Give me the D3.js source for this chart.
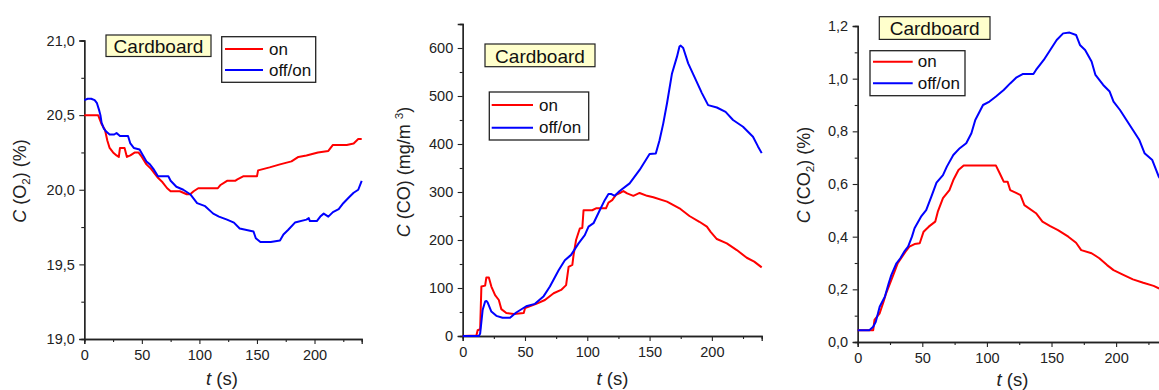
<!DOCTYPE html>
<html lang="en">
<head>
<meta charset="UTF-8">
<title>Cardboard O2 / CO / CO2</title>
<script src="https://d3js.org/d3.v7.min.js"></script>
<style>
    html, body { margin: 0; padding: 0; background: #fff; }
    svg { display: block; font-family: "Liberation Sans", Arial, sans-serif; }
</style>
</head>
<body>
<svg id="chart" width="1159" height="390"></svg>
<script>
// time axis ticks (s)
const timeTicks = [0, 50, 100, 150, 200];
const timeMinor = [25, 75, 125, 175, 225];

// O2 (%) : [t, value]
const o2On = [[0,20.50],[12,20.50],[15,20.44],[18,20.40],[20,20.33],[22,20.28],[25,20.25],[28,20.23],[30,20.22],[31,20.28],[35,20.28],[37,20.22],[40,20.23],[44,20.25],[47,20.25],[50,20.22],[54,20.17],[58,20.14],[64,20.08],[68,20.05],[72,20.01],[75,19.99],[83,19.99],[89,19.97],[92,19.97],[95,19.99],[99,20.01],[116,20.01],[118,20.03],[124,20.06],[131,20.06],[133,20.07],[138,20.09],[150,20.09],[151,20.13],[161,20.15],[170,20.17],[180,20.19],[186,20.22],[193,20.23],[203,20.25],[212,20.26],[216,20.30],[228,20.30],[234,20.31],[238,20.34],[241,20.34]];
const o2OffOn = [[0,20.60],[3,20.61],[6,20.61],[9,20.60],[11,20.58],[13,20.53],[14,20.50],[15,20.45],[17,20.41],[19,20.39],[22,20.37],[26,20.37],[28,20.38],[31,20.36],[38,20.36],[40,20.31],[43,20.28],[48,20.27],[51,20.23],[54,20.19],[57,20.17],[60,20.14],[64,20.09],[73,20.09],[75,20.06],[80,20.02],[86,20.00],[92,19.97],[98,19.91],[105,19.89],[112,19.84],[117,19.82],[124,19.80],[130,19.78],[135,19.74],[147,19.72],[149,19.675],[153,19.65],[162,19.65],[170,19.66],[173,19.70],[177,19.73],[183,19.78],[193,19.80],[195,19.81],[196,19.79],[202,19.79],[205,19.82],[208,19.84],[212,19.82],[216,19.85],[221,19.87],[225,19.91],[230,19.95],[234,19.98],[238,20.00],[241,20.06]];
const o2Ticks = [19, 19.5, 20, 20.5, 21];
const o2Minor = [19.25, 19.75, 20.25, 20.75];

// CO (mg/m3)
const coOn = [[0,0],[11,1],[12,12],[14,14],[15,103],[18,105],[19,122],[21,122],[23,103],[26,85],[29,75],[31,56],[35,48],[41,46],[49,48],[50,58],[59,67],[66,75],[73,89],[79,96],[83,106],[85,144],[88,148],[89,169],[91,200],[94,224],[96,225],[97,262],[104,262],[107,266],[115,266],[117,278],[120,283],[123,294],[127,299],[129,302],[132,297],[137,292],[142,298],[148,292],[153,289],[164,280],[174,266],[182,250],[190,238],[196,228],[199,217],[204,202],[212,193],[220,179],[228,163],[234,155],[240,143]];
const coOffOn = [[0,0],[13,0],[14,5],[16,54],[18,72],[19,73],[20,70],[23,51],[27,42],[32,38],[38,38],[43,49],[51,62],[58,67],[65,83],[70,103],[77,137],[82,158],[87,169],[93,193],[98,210],[101,228],[105,235],[110,262],[114,283],[117,296],[119,296],[122,292],[126,302],[134,318],[142,346],[150,379],[155,380],[158,408],[161,443],[164,485],[168,547],[172,582],[174,603],[175,605],[177,600],[181,568],[186,540],[192,506],[197,481],[204,476],[211,467],[217,450],[225,436],[233,415],[237,395],[240,381]];
const coTicks = [0, 100, 200, 300, 400, 500, 600];
const coMinor = [50, 150, 250, 350, 450, 550, 650];

// CO2 (%)
const co2On = [[0,0.045],[12,0.045],[13,0.084],[17,0.109],[20,0.153],[22,0.185],[25,0.223],[28,0.261],[31,0.299],[37,0.343],[40,0.362],[44,0.372],[48,0.375],[51,0.419],[55,0.438],[60,0.457],[62,0.495],[66,0.546],[71,0.577],[74,0.615],[78,0.653],[82,0.670],[107,0.670],[110,0.640],[113,0.609],[116,0.609],[118,0.577],[123,0.565],[126,0.558],[129,0.520],[138,0.489],[143,0.457],[149,0.440],[155,0.425],[163,0.400],[169,0.377],[173,0.349],[181,0.337],[187,0.318],[193,0.292],[198,0.273],[206,0.254],[213,0.238],[221,0.225],[229,0.213],[233,0.204],[240,0.195]];
const co2OffOn = [[0,0.045],[9,0.045],[12,0.058],[14,0.077],[17,0.134],[21,0.172],[24,0.223],[26,0.254],[30,0.299],[33,0.318],[36,0.343],[39,0.362],[42,0.400],[44,0.432],[49,0.476],[53,0.501],[57,0.552],[61,0.605],[66,0.634],[69,0.666],[74,0.710],[79,0.736],[84,0.755],[88,0.793],[91,0.843],[95,0.881],[97,0.900],[102,0.913],[107,0.932],[113,0.957],[118,0.982],[123,1.005],[128,1.018],[136,1.018],[138,1.033],[144,1.071],[149,1.109],[154,1.147],[159,1.172],[164,1.175],[169,1.166],[172,1.128],[176,1.109],[181,1.065],[184,1.014],[190,0.976],[195,0.951],[198,0.913],[203,0.881],[208,0.843],[213,0.805],[218,0.767],[222,0.717],[228,0.691],[233,0.628],[240,0.580]];
const co2Ticks = [0, 0.2, 0.4, 0.6, 0.8, 1.0, 1.2];
const co2Minor = [0.1, 0.3, 0.5, 0.7, 0.9, 1.1];

const seriesNames = ["on", "off/on"];
const seriesColors = ["#ff0000", "#0000ff"];

const comma = v => d3.format(".1f")(v).replace(".", ",");

const panels = [
    {
        x: [84.3, 361.7], xMax: 241, y: [339, 40.5], yDom: [19, 21],
        yTicks: o2Ticks, yMinor: o2Minor, fmt: comma, xLabelBase: 360,
        series: [o2On, o2OffOn],
        yLabel: { x: 26, y: 181, parts: [["C", "i"], [" (O"], ["2", "sub"], [") (%)"]] },
        tLabel: { x: 222, y: 385 },
        card: { x: 106, y: 35, w: 105, h: 21.5, base: 53 },
        legend: { x: 221.7, y: 36.7, w: 94, h: 45.6, l0: 225, l1: 263, ty: [49, 70], tx: 269 }
    },
    {
        x: [462.7, 761.7], xMax: 240, y: [336, 24], yDom: [0, 650],
        yTicks: coTicks, yMinor: coMinor, fmt: d3.format("d"), xLabelBase: 358,
        series: [coOn, coOffOn],
        yLabel: { x: 410, y: 172, parts: [["C", "i"], [" (CO) (mg/m "], ["3", "sup"], [")"]] },
        tLabel: { x: 612.5, y: 385 },
        card: { x: 485, y: 44, w: 110, h: 22.7, base: 63 },
        legend: { x: 489.3, y: 92, w: 99.4, h: 48, l0: 491.7, l1: 533, ty: [105, 127.7], tx: 539 }
    },
    {
        x: [857.7, 1167.8], xMax: 240, y: [342, 26], yDom: [0, 1.2],
        yTicks: co2Ticks, yMinor: co2Minor, fmt: comma, xLabelBase: 363,
        series: [co2On, co2OffOn],
        yLabel: { x: 810, y: 175, parts: [["C", "i"], [" (CO"], ["2", "sub"], [") (%)"]] },
        tLabel: { x: 1012.5, y: 386 },
        card: { x: 879.3, y: 16.7, w: 110.7, h: 22.7, base: 35 },
        legend: { x: 870, y: 50.7, w: 95, h: 45, l0: 873, l1: 912.7, ty: [61.7, 83.3], tx: 917.7 }
    }
];

const svg = d3.select("#chart");

function styleAxis(g) {
    g.select(".domain").attr("stroke", "#222").attr("stroke-width", 1.3);
    g.selectAll(".tick line").attr("stroke", "#222").attr("stroke-width", 1.1);
    g.selectAll(".tick text").attr("fill", "#222").style("font-size", "14.5px")
        .style("font-family", "'Liberation Sans', Arial, sans-serif");
}

function richText(sel, parts, size) {
    parts.forEach(p => {
        const ts = sel.append("tspan").text(p[0]);
        if (p[1] === "i") ts.style("font-style", "italic");
        if (p[1] === "sub") { ts.style("font-size", (size * 0.65) + "px").attr("dy", 4); }
        if (p[1] === "sup") { ts.style("font-size", (size * 0.65) + "px").attr("dy", -7); }
    });
    // reset baseline after sub/sup
    sel.selectAll("tspan").each(function (d, i, nodes) {
        const prev = i > 0 ? parts[i - 1][1] : null;
        if (prev === "sub") d3.select(this).attr("dy", -4);
        if (prev === "sup") d3.select(this).attr("dy", 7);
    });
}

panels.forEach(p => {
    const x = d3.scaleLinear().domain([0, p.xMax]).range(p.x);
    const y = d3.scaleLinear().domain(p.yDom).range(p.y);
    const g = svg.append("g");

    // minor ticks
    g.append("g").attr("transform", `translate(0,${p.y[0]})`)
        .call(d3.axisBottom(x).tickValues(timeMinor.filter(t => t <= p.xMax)).tickSize(3).tickFormat(""))
        .call(styleAxis);
    g.append("g").attr("transform", `translate(${p.x[0]},0)`)
        .call(d3.axisLeft(y).tickValues(p.yMinor.filter(v => v <= p.yDom[1])).tickSize(3).tickFormat(""))
        .call(styleAxis);

    // major axes
    g.append("g").attr("transform", `translate(0,${p.y[0]})`)
        .call(d3.axisBottom(x).tickValues(timeTicks).tickSize(5).tickPadding(6).tickFormat(d3.format("d")))
        .call(styleAxis);
    g.append("g").attr("transform", `translate(${p.x[0]},0)`)
        .call(d3.axisLeft(y).tickValues(p.yTicks).tickSize(5).tickPadding(4.5).tickFormat(p.fmt))
        .call(styleAxis);

    // data lines
    const line = d3.line().x(d => x(d[0])).y(d => y(d[1]));
    p.series.forEach((s, i) => {
        g.append("path").datum(s)
            .attr("d", line)
            .attr("fill", "none")
            .attr("stroke", seriesColors[i])
            .attr("stroke-width", 2)
            .attr("stroke-linejoin", "round");
    });

    // axis titles
    const yl = g.append("text")
        .attr("transform", `translate(${p.yLabel.x},${p.yLabel.y}) rotate(-90)`)
        .attr("text-anchor", "middle")
        .style("font-size", "18px").attr("fill", "#222");
    richText(yl, p.yLabel.parts, 18);

    const tl = g.append("text")
        .attr("x", p.tLabel.x).attr("y", p.tLabel.y)
        .attr("text-anchor", "middle")
        .style("font-size", "18.5px").attr("fill", "#222");
    richText(tl, [["t", "i"], [" (s)"]], 18.5);

    // "Cardboard" tag
    g.append("rect")
        .attr("x", p.card.x).attr("y", p.card.y)
        .attr("width", p.card.w).attr("height", p.card.h)
        .attr("fill", "#ffffcc").attr("stroke", "#222").attr("stroke-width", 1.2);
    g.append("text")
        .attr("x", p.card.x + p.card.w / 2).attr("y", p.card.base)
        .attr("text-anchor", "middle")
        .style("font-size", "19px").attr("fill", "#111")
        .text("Cardboard");

    // legend
    const L = p.legend;
    g.append("rect")
        .attr("x", L.x).attr("y", L.y).attr("width", L.w).attr("height", L.h)
        .attr("fill", "#fff").attr("stroke", "#222").attr("stroke-width", 1.3);
    seriesNames.forEach((name, i) => {
        g.append("line")
            .attr("x1", L.l0).attr("x2", L.l1)
            .attr("y1", L.ty[i]).attr("y2", L.ty[i])
            .attr("stroke", seriesColors[i]).attr("stroke-width", 2);
        g.append("text")
            .attr("x", L.tx).attr("y", L.ty[i] + 5.5)
            .style("font-size", "17px").attr("fill", "#111")
            .text(name);
    });
});
</script>
</body>
</html>
